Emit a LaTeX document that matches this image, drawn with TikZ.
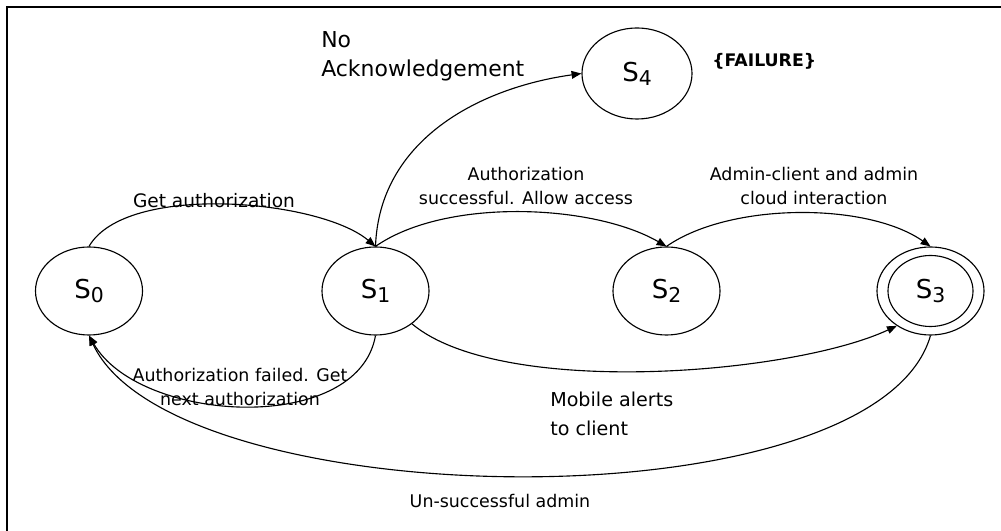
\documentclass[tikz,border=0pt]{standalone}
\usepackage{fontspec}
\setmainfont{DejaVu Sans}
\usetikzlibrary{arrows.meta,shapes.geometric}

\newcommand{\stlabel}[1]{S\raisebox{-2.8pt}{\fontsize{14.5}{14.5}\selectfont #1}}

\begin{document}
\begin{tikzpicture}[
    x=0.025cm, y=0.025cm,
    state/.style={ellipse, draw=black, line width=0.8pt, minimum width=2.675cm, minimum height=2.2cm, inner sep=0pt, font=\fontsize{18.5}{18.5}\selectfont},
    every edge/.style={draw, line width=0.8pt, -{Triangle[length=7pt, width=5.5pt]}},
    edge label/.style={font=\fontsize{12.4}{17.1}\selectfont, black, inner sep=0pt, align=center}
]
\useasboundingbox (0,0) rectangle (1001,531);
\draw[line width=1.4pt] (1001,523.7) -- (7,523.7) -- (7,0);

\node[state] (s0) at (89,240) {\stlabel{0}};
\node[state] (s1) at (375.5,240) {\stlabel{1}};
\node[state] (s2) at (666.5,240) {\stlabel{2}};
\node[state] (s3) at (930.5,240) {\stlabel{3}};
\node[state, minimum width=2.75cm, minimum height=2.275cm] (s4) at (637,457.5) {\stlabel{4}};
\draw[line width=0.8pt] (s3.center) ellipse [x radius=1.0625cm, y radius=0.8875cm];

\path (s0.north) edge[out=60, in=140, looseness=0.66] (s1.north);
\path (s1.north) edge[out=88, in=188, looseness=1] (s4.west);
\path (s1.north) edge[out=35, in=150, looseness=0.75] (s2.north);
\path (s2.north) edge[out=35, in=145, looseness=0.75] (s3.north);
\path (s1.-42) edge[out=-40, in=205, looseness=0.61] (s3.-134);
\path (s1.south) edge[out=-100, in=-60, looseness=0.91] (s0.south);
\path (s3.south) edge[out=-106, in=-65, looseness=0.61] (s0.south);

\node[edge label, font=\fontsize{15.6}{21.3}\selectfont, align=left, anchor=base west] (acklbl) at (321,454) {No\\Acknowledgement};
\node[edge label, font=\fontsize{12.3}{12.3}\selectfont\bfseries, anchor=base west] (faillbl) at (712,464) {\{FAILURE\}};
\node[edge label, font=\fontsize{13.2}{17.1}\selectfont, anchor=base] (getlbl) at (214,323) {Get authorization};
\node[edge label, anchor=base] (oklbl) at (526,326) {Authorization\\successful. Allow access};
\node[edge label, anchor=base] (adminlbl) at (814,326) {Admin-client and admin\\cloud interaction};
\node[edge label, anchor=base] (faillbl2) at (240,125.3) {Authorization failed. Get\\next authorization};
\node[edge label, font=\fontsize{13.6}{20.6}\selectfont, align=left, anchor=base west] (mobilelbl) at (550,95.3) {Mobile alerts\\to client};
\node[edge label, anchor=base] (unlbl) at (500,23) {Un-successful admin};

\end{tikzpicture}
\end{document}
